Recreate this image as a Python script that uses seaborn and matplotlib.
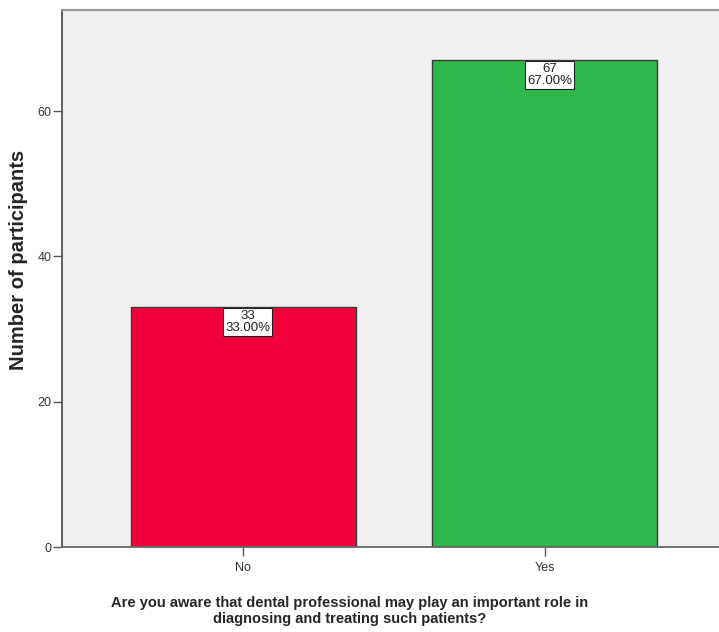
import matplotlib
matplotlib.use("Agg")
import matplotlib.pyplot as plt
import seaborn as sns
import pandas as pd

categories = ["No", "Yes"]
counts = [33, 67]
percent_labels = ["33.00%", "67.00%"]
bar_colors = ["#F2003C", "#2EB84C"]
y_ticks = [0, 20, 40, 60]

sns.set_theme(style="white")
plt.rcParams["font.family"] = ["Liberation Sans", "DejaVu Sans"]

df = pd.DataFrame({"answer": categories, "count": counts})

fig = plt.figure(figsize=(7.19, 6.32), dpi=100)
ax = fig.add_axes([62 / 719, 85 / 632, 664 / 719, 537 / 632])
ax.set_facecolor("#F0F0F0")

sns.barplot(data=df, x="answer", y="count", hue="answer", palette=bar_colors,
            order=categories, hue_order=categories, width=0.745,
            edgecolor="#3A3A3A", linewidth=1.0, legend=False, ax=ax,
            saturation=1)

ax.set_xlim(-0.6, 1.6)
ax.set_ylim(0, 73.9)
ax.set_yticks(y_ticks)
ax.set_yticklabels([str(v) for v in y_ticks])

for i, (c, p) in enumerate(zip(counts, percent_labels)):
    ax.annotate(f"{c}\n{p}", xy=(i + 0.015, c), xytext=(0, -2), textcoords="offset points",
                ha="center", va="top", fontsize=9.5, color="#222222", linespacing=1.0,
                bbox=dict(boxstyle="square,pad=0.15", fc="white", ec="#222222", lw=0.8))

for side in ["left", "bottom", "top", "right"]:
    ax.spines[side].set_visible(True)
ax.spines["left"].set_color("#555555")
ax.spines["left"].set_linewidth(1.3)
ax.spines["bottom"].set_color("#666666")
ax.spines["bottom"].set_linewidth(1.3)
ax.spines["top"].set_color("#999999")
ax.spines["top"].set_linewidth(1.6)
ax.spines["right"].set_color("#999999")

ax.tick_params(axis="both", which="both", direction="out", length=6.5, width=1,
               color="#555555", labelsize=9, labelcolor="#333333",
               bottom=True, left=True)
ax.tick_params(axis="y", pad=1)
ax.tick_params(axis="x", pad=4)

ax.set_ylabel("Number of participants", fontsize=14.5, fontweight="bold")
ax.yaxis.label.set_va("center")
ax.yaxis.set_label_coords((19 - 62) / 664, (547 - 260) / 537)

ax.set_xlabel("Are you aware that dental professional may play an important role in\n"
              "diagnosing and treating such patients?",
              fontsize=10.5, fontweight="bold", linespacing=1.2)
ax.xaxis.set_label_coords((350 - 62) / 664, -(596 - 547) / 537)
ax.xaxis.label.set_va("top")

fig.savefig("out.png", dpi=100, facecolor="white")
